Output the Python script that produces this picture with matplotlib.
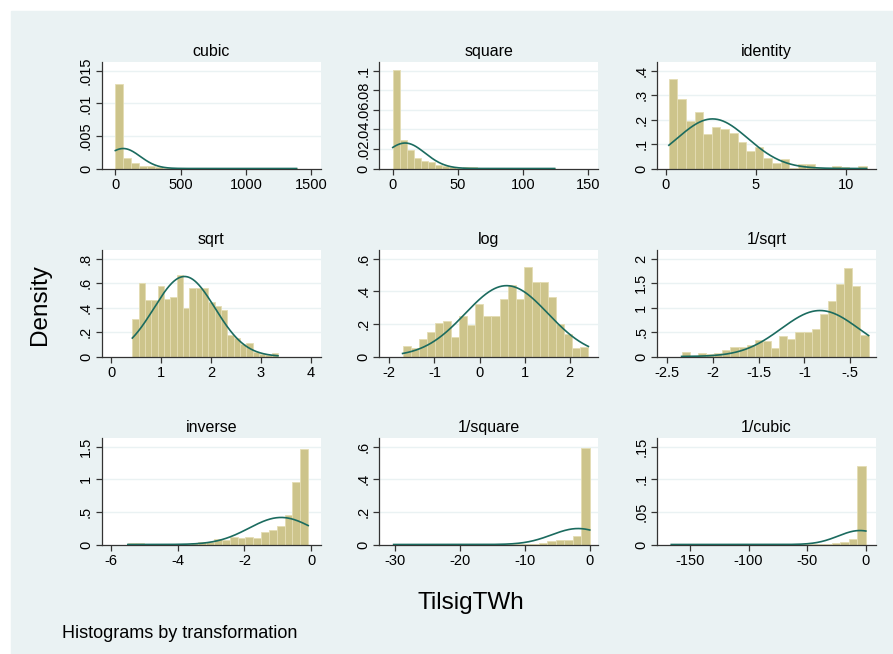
import numpy as np
import matplotlib
matplotlib.use("Agg")
import matplotlib.pyplot as plt

plt.rcParams['font.family'] = ['Liberation Sans', 'DejaVu Sans']
plt.rcParams['axes.unicode_minus'] = False

# ---------------- data ----------------
titles = ["cubic", "square", "identity", "sqrt", "log", "1/sqrt",
          "inverse", "1/square", "1/cubic"]

x_min = [0.006, 0.033, 0.182, 0.427, -1.704, -2.344, -5.495, -30.19, -165.9]
x_max = [1386.0, 124.3, 11.15, 3.339, 2.411, -0.2995, -0.0897, -0.00804, -0.000721]

h_cubic = [0.0130, 0.0016, 0.0008, 0.00035, 0.00035, 0.0002, 0.00005, 0.00003,
           0.00015, 0.00003, 0, 0, 0.00002, 0, 0, 0, 0, 0, 0, 0, 0, 0, 0.00002]
h_square = [0.101, 0.0295, 0.019, 0.011, 0.0076, 0.0063, 0.0035, 0.0025, 0.0017,
            0.001, 0.0015, 0.0015, 0.0008, 0.0003, 0, 0, 0.0005, 0, 0, 0, 0, 0, 0.0003]
h_identity = [0.365, 0.285, 0.195, 0.232, 0.14, 0.168, 0.163, 0.145, 0.11, 0.07,
              0.088, 0.045, 0.022, 0.037, 0.004, 0.02, 0.02, 0.002, 0.0, 0.01,
              0.005, 0.0, 0.01]
h_sqrt = [0.31, 0.60, 0.46, 0.46, 0.58, 0.47, 0.49, 0.67, 0.40, 0.56, 0.56, 0.56,
          0.45, 0.41, 0.38, 0.18, 0.15, 0.10, 0.11, 0.04, 0.02, 0.01, 0.03]
h_log = [0.065, 0.055, 0.11, 0.15, 0.205, 0.215, 0.12, 0.25, 0.195, 0.325, 0.25,
         0.25, 0.355, 0.44, 0.355, 0.55, 0.46, 0.46, 0.365, 0.20, 0.14, 0.055, 0.06]
h_invsqrt = [0.10, 0.02, 0.08, 0.06, 0.08, 0.14, 0.19, 0.20, 0.23, 0.34, 0.31, 0.18,
             0.42, 0.36, 0.50, 0.50, 0.57, 0.88, 1.13, 1.49, 1.82, 1.45, 0.44]
h_inverse = [0.02, 0.025, 0.005, 0.005, 0.01, 0.005, 0.01, 0.015, 0.02, 0.04, 0.035,
             0.08, 0.07, 0.12, 0.10, 0.12, 0.10, 0.19, 0.22, 0.28, 0.45, 0.96, 1.46]
h_invsquare = [0.001, 0.001, 0.0005, 0.001, 0.0005, 0.001, 0.0005, 0.001, 0.001, 0.001,
               0.001, 0.0015, 0.001, 0.002, 0.002, 0.004, 0.006, 0.012, 0.02, 0.025,
               0.028, 0.052, 0.59]
h_invcubic = [0.0002, 0.0001, 0.0001, 0.0001, 0.0001, 0.0001, 0.0001, 0.0001, 0.0001,
              0.0001, 0.0001, 0.0002, 0.0002, 0.0002, 0.0003, 0.0004, 0.0005, 0.0007,
              0.001, 0.002, 0.004, 0.008, 0.12]
heights = [h_cubic, h_square, h_identity, h_sqrt, h_log, h_invsqrt,
           h_inverse, h_invsquare, h_invcubic]

norm_mean = [60.0, 9.5, 2.6, 1.47, 0.6, -0.83, -0.9, -1.8, -5.0]
norm_sd = [130.0, 15.3, 1.965, 0.609, 0.917, 0.424, 0.961, 4.07, 18.6]

x_ticks = [[0, 500, 1000, 1500], [0, 50, 100, 150], [0, 5, 10], [0, 1, 2, 3, 4],
           [-2, -1, 0, 1, 2], [-2.5, -2, -1.5, -1, -0.5], [-6, -4, -2, 0],
           [-30, -20, -10, 0], [-150, -100, -50, 0]]
x_labels = [["0", "500", "1000", "1500"], ["0", "50", "100", "150"], ["0", "5", "10"],
            ["0", "1", "2", "3", "4"], ["-2", "-1", "0", "1", "2"],
            ["-2.5", "-2", "-1.5", "-1", "-.5"], ["-6", "-4", "-2", "0"],
            ["-30", "-20", "-10", "0"], ["-150", "-100", "-50", "0"]]
y_ticks = [[0, 0.005, 0.01, 0.015], [0, 0.02, 0.04, 0.06, 0.08, 0.1],
           [0, 0.1, 0.2, 0.3, 0.4], [0, 0.2, 0.4, 0.6, 0.8], [0, 0.2, 0.4, 0.6],
           [0, 0.5, 1, 1.5, 2], [0, 0.5, 1, 1.5], [0, 0.2, 0.4, 0.6],
           [0, 0.05, 0.1, 0.15]]
y_labels = [["0", ".005", ".01", ".015"], ["0", ".02", ".04", ".06", ".08", ".1"],
            ["0", ".1", ".2", ".3", ".4"], ["0", ".2", ".4", ".6", ".8"],
            ["0", ".2", ".4", ".6"], ["0", ".5", "1", "1.5", "2"],
            ["0", ".5", "1", "1.5"], ["0", ".2", ".4", ".6"],
            ["0", ".05", ".1", ".15"]]
x_lims = [(-102, 1569), (-10.3, 157.4), (-0.46, 11.66), (-0.18, 4.19), (-2.22, 2.62),
          (-2.61, -0.22), (-6.27, 0.28), (-32.4, 1.23), (-177.8, 8.5)]

x_title = "TilsigTWh"
y_title = "Density"
note = "Histograms by transformation"

# ---------------- layout / style ----------------
W, H = 893, 654
BG = "#EAF2F3"
BAR = "#CDC48B"
BAR_EDGE = "#E4DDB4"
LINE = "#1B6B5F"

fig = plt.figure(figsize=(W / 100, H / 100), dpi=100)
fig.patch.set_facecolor("white")
fig.patches.append(plt.Rectangle((11 / W, 0), 1 - 11 / W, 1 - 11 / H,
                                 transform=fig.transFigure, color=BG, zorder=-10))

col_left = [102, 379.3, 657.3]
row_top = [62, 250, 438]
ax_w = 218.5
ax_h = 106.5

for i in range(9):
    r, c = divmod(i, 3)
    left = col_left[c] / W
    bottom = 1 - (row_top[r] + ax_h) / H
    ax = fig.add_axes([left, bottom, ax_w / W, ax_h / H])
    ax.set_facecolor("white")

    n = len(heights[i])
    edges = np.linspace(x_min[i], x_max[i], n + 1)
    ax.bar(edges[:-1], heights[i], width=np.diff(edges), align="edge",
           color=BAR, edgecolor=BAR_EDGE, linewidth=0.6, zorder=2)

    xs = np.linspace(x_min[i], x_max[i], 300)
    ys = np.exp(-0.5 * ((xs - norm_mean[i]) / norm_sd[i]) ** 2) / (norm_sd[i] * np.sqrt(2 * np.pi))
    ax.plot(xs, ys, color=LINE, linewidth=1.2, zorder=3)

    ax.set_xlim(*x_lims[i])
    ax.set_ylim(0, y_ticks[i][-1] * 1.09)
    ax.set_xticks(x_ticks[i])
    ax.set_xticklabels(x_labels[i])
    ax.set_yticks(y_ticks[i])
    ax.set_yticklabels(y_labels[i], rotation=90, va="center")
    for yt in y_ticks[i][1:]:
        ax.axhline(yt, color=BG, linewidth=1.0, zorder=1)

    for s in ["top", "right"]:
        ax.spines[s].set_visible(False)
    for s in ["left", "bottom"]:
        ax.spines[s].set_color("#333333")
        ax.spines[s].set_linewidth(0.9)
    ax.tick_params(axis="both", direction="out", length=4.5, width=0.9,
                   color="#333333", labelsize=10.5, pad=2)
    ax.set_title(titles[i], fontsize=11.5, pad=4)

fig.text(40 / W, 1 - 305 / H, y_title, rotation=90, fontsize=17.5,
         ha="center", va="center")
fig.text(471 / W, 1 - 603 / H, x_title, fontsize=17.5, ha="center", va="center")
fig.text(62 / W, 1 - 633 / H, note, fontsize=13, ha="left", va="center")

fig.savefig("out.png", dpi=100, facecolor=fig.get_facecolor())
